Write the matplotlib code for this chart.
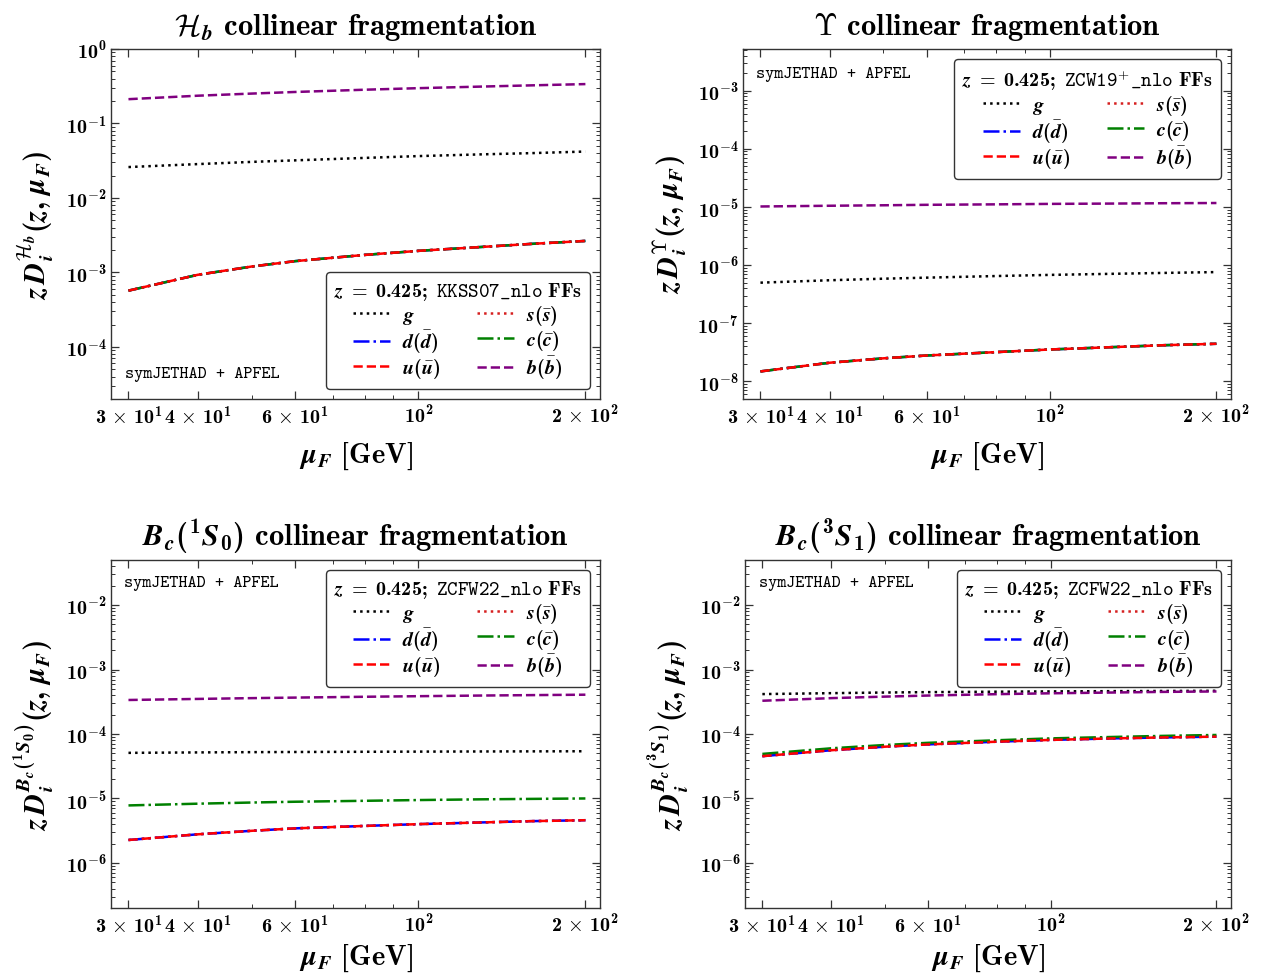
import numpy as np
import matplotlib
matplotlib.use('Agg')
import matplotlib.pyplot as plt
from matplotlib.ticker import FixedLocator, FuncFormatter, LogLocator, NullFormatter

plt.rcParams['mathtext.fontset'] = 'custom'
plt.rcParams['mathtext.rm'] = 'cmr10'
plt.rcParams['mathtext.it'] = 'cmmi10'
plt.rcParams['mathtext.bf'] = 'cmb10'
plt.rcParams['mathtext.bfit'] = 'STIXGeneral:italic:bold'
plt.rcParams['mathtext.tt'] = 'cmtt10'
plt.rcParams['mathtext.cal'] = 'cmsy10'
plt.rcParams['mathtext.sf'] = 'cmss10'
plt.rcParams['mathtext.fallback'] = 'cm'
plt.rcParams['font.family'] = ['cmb10', 'DejaVu Serif']
plt.rcParams['axes.unicode_minus'] = True

# ---------------- data ----------------
mu_F = [30, 40, 50, 60, 80, 100, 130, 160, 200]

# H_b (KKSS07_nlo)
Hb_g = [0.026, 0.0285, 0.0305, 0.032, 0.0345, 0.0365, 0.0385, 0.040, 0.042]
Hb_light = [5.7e-4, 9.3e-4, 1.2e-3, 1.42e-3, 1.72e-3, 1.95e-3, 2.2e-3, 2.42e-3, 2.65e-3]
Hb_c = [5.7e-4, 9.3e-4, 1.2e-3, 1.42e-3, 1.72e-3, 1.95e-3, 2.2e-3, 2.42e-3, 2.65e-3]
Hb_b = [0.212, 0.236, 0.252, 0.265, 0.284, 0.298, 0.313, 0.325, 0.338]

# Upsilon (ZCW19+_nlo)
Ups_g = [5.0e-7, 5.5e-7, 5.85e-7, 6.1e-7, 6.5e-7, 6.8e-7, 7.1e-7, 7.35e-7, 7.6e-7]
Ups_light = [1.49e-8, 2.1e-8, 2.5e-8, 2.8e-8, 3.2e-8, 3.55e-8, 3.9e-8, 4.2e-8, 4.45e-8]
Ups_c = [1.49e-8, 2.1e-8, 2.5e-8, 2.8e-8, 3.2e-8, 3.55e-8, 3.9e-8, 4.2e-8, 4.45e-8]
Ups_b = [1.02e-5, 1.05e-5, 1.07e-5, 1.09e-5, 1.11e-5, 1.13e-5, 1.145e-5, 1.16e-5, 1.17e-5]

# Bc(1S0) (ZCFW22_nlo)
Bc1_g = [5.1e-5, 5.18e-5, 5.23e-5, 5.26e-5, 5.3e-5, 5.33e-5, 5.36e-5, 5.38e-5, 5.4e-5]
Bc1_light = [2.27e-6, 2.78e-6, 3.15e-6, 3.44e-6, 3.75e-6, 4.0e-6, 4.25e-6, 4.45e-6, 4.6e-6]
Bc1_c = [7.8e-6, 8.3e-6, 8.65e-6, 8.9e-6, 9.2e-6, 9.45e-6, 9.7e-6, 9.85e-6, 1.0e-5]
Bc1_b = [3.37e-4, 3.5e-4, 3.6e-4, 3.67e-4, 3.78e-4, 3.86e-4, 3.95e-4, 4.01e-4, 4.07e-4]

# Bc(3S1) (ZCFW22_nlo)
Bc3_g = [4.16e-4, 4.3e-4, 4.4e-4, 4.46e-4, 4.53e-4, 4.58e-4, 4.62e-4, 4.65e-4, 4.68e-4]
Bc3_light = [4.53e-5, 5.6e-5, 6.35e-5, 6.9e-5, 7.6e-5, 8.1e-5, 8.55e-5, 8.85e-5, 9.1e-5]
Bc3_c = [4.91e-5, 6.0e-5, 6.75e-5, 7.3e-5, 8.0e-5, 8.55e-5, 9.0e-5, 9.35e-5, 9.66e-5]
Bc3_b = [3.28e-4, 3.6e-4, 3.8e-4, 3.95e-4, 4.15e-4, 4.28e-4, 4.4e-4, 4.5e-4, 4.57e-4]

xtick_values = [30, 40, 60, 100, 200]
xtick_labels = [r'$\mathbf{3}\,\times\,\mathbf{10^{1}}$', r'$\mathbf{4}\,\times\,\mathbf{10^{1}}$',
                r'$\mathbf{6}\,\times\,\mathbf{10^{1}}$', r'$\mathbf{10^{2}}$',
                r'$\mathbf{2}\,\times\,\mathbf{10^{2}}$']
xminor_values = [50, 70, 80, 90]

titles = [r'$\mathcal{H}_{\boldsymbol{b}}$ collinear fragmentation',
          r'$\mathbf{\Upsilon}$ collinear fragmentation',
          r'$\boldsymbol{B}_{\boldsymbol{c}}\mathbf{(}{}^{\mathbf{1}}\boldsymbol{S}_{\mathbf{0}}\mathbf{)}$ collinear fragmentation',
          r'$\boldsymbol{B}_{\boldsymbol{c}}\mathbf{(}{}^{\mathbf{3}}\boldsymbol{S}_{\mathbf{1}}\mathbf{)}$ collinear fragmentation']

tail = r'\mathbf{(}\boldsymbol{z}\mathbf{,}\ \boldsymbol{\mu}_{\boldsymbol{F}}\mathbf{)}'
ylabels = [r'$\boldsymbol{z\,D}_{\boldsymbol{i}}^{\mathcal{H}_{\boldsymbol{b}}}' + tail + '$',
           r'$\boldsymbol{z\,D}_{\boldsymbol{i}}^{\mathbf{\Upsilon}}' + tail + '$',
           r'$\boldsymbol{z\,D}_{\boldsymbol{i}}^{\boldsymbol{B}_{\boldsymbol{c}}\mathbf{(}{}^{\mathbf{1}}\boldsymbol{S}_{\mathbf{0}}\mathbf{)}}' + tail + '$',
           r'$\boldsymbol{z\,D}_{\boldsymbol{i}}^{\boldsymbol{B}_{\boldsymbol{c}}\mathbf{(}{}^{\mathbf{3}}\boldsymbol{S}_{\mathbf{1}}\mathbf{)}}' + tail + '$']

ff_sets = [r'\mathtt{KKSS07\_nlo}', r'\mathtt{ZCW19}^{+}\mathtt{\_nlo}',
           r'\mathtt{ZCFW22\_nlo}', r'\mathtt{ZCFW22\_nlo}']

ylims = [(2e-5, 1.0), (5e-9, 5.2e-3), (2e-7, 5e-2), (2e-7, 5e-2)]
xlim = (27.9, 212.5)

series_data = [
    dict(g=Hb_g, s=Hb_light, d=Hb_light, c=Hb_c, u=Hb_light, b=Hb_b),
    dict(g=Ups_g, s=Ups_light, d=Ups_light, c=Ups_c, u=Ups_light, b=Ups_b),
    dict(g=Bc1_g, s=Bc1_light, d=Bc1_light, c=Bc1_c, u=Bc1_light, b=Bc1_b),
    dict(g=Bc3_g, s=Bc3_light, d=Bc3_light, c=Bc3_c, u=Bc3_light, b=Bc3_b),
]

styles = {
    'g': dict(color='black', ls=':', label=r'$\boldsymbol{g}$'),
    's': dict(color='#d62020', ls=':', label=r'$\boldsymbol{s}\mathbf{(}\bar{\boldsymbol{s}}\mathbf{)}$'),
    'd': dict(color='blue', ls='-.', label=r'$\boldsymbol{d}\mathbf{(}\bar{\boldsymbol{d}}\mathbf{)}$'),
    'c': dict(color='green', ls='-.', label=r'$\boldsymbol{c}\mathbf{(}\bar{\boldsymbol{c}}\mathbf{)}$'),
    'u': dict(color='red', ls='--', label=r'$\boldsymbol{u}\mathbf{(}\bar{\boldsymbol{u}}\mathbf{)}$'),
    'b': dict(color='purple', ls='--', label=r'$\boldsymbol{b}\mathbf{(}\bar{\boldsymbol{b}}\mathbf{)}$'),
}
plot_order = ['g', 's', 'd', 'c', 'u', 'b']
legend_order = ['g', 'd', 'u', 's', 'c', 'b']

W, H = 1261, 978
rects_px = [(111, 50, 600, 400), (743, 50, 1231, 400),
            (111, 561, 600, 909), (745, 561, 1231, 909)]
legend_locs = ['lower right', 'upper right', 'upper right', 'upper right']
tag_pos = [(0.028, 0.072), (0.026, 0.93), (0.026, 0.935), (0.028, 0.935)]
xlabel_pads = [9, 9, 4, 4]

fig = plt.figure(figsize=(W / 100, H / 100), dpi=100)

def yfmt(v, pos):
    e = int(np.round(np.log10(v)))
    return r'$\mathbf{10^{%d}}$' % e

for k in range(4):
    x0, y0, x1, y1 = rects_px[k]
    ax = fig.add_axes([x0 / W, 1 - y1 / H, (x1 - x0) / W, (y1 - y0) / H])
    ax.set_xscale('log')
    ax.set_yscale('log')
    lines = {}
    for key in plot_order:
        st = styles[key]
        ln, = ax.plot(mu_F, series_data[k][key], color=st['color'], ls=st['ls'],
                      lw=1.8, label=st['label'])
        lines[key] = ln
    ax.set_xlim(*xlim)
    ax.set_ylim(*ylims[k])

    ax.xaxis.set_major_locator(FixedLocator(xtick_values))
    ax.xaxis.set_major_formatter(FuncFormatter(lambda v, p: xtick_labels[xtick_values.index(int(round(v)))]))
    ax.xaxis.set_minor_locator(FixedLocator(xminor_values))
    ax.xaxis.set_minor_formatter(NullFormatter())
    ax.yaxis.set_major_locator(LogLocator(base=10, numticks=20))
    ax.yaxis.set_major_formatter(FuncFormatter(yfmt))
    ax.yaxis.set_minor_locator(LogLocator(base=10, subs=np.arange(2, 10), numticks=20))
    ax.yaxis.set_minor_formatter(NullFormatter())

    ax.tick_params(which='both', direction='in', top=True, right=True, labelsize=14.5,
                   color='#333333')
    ax.tick_params(which='major', length=6, width=0.9)
    ax.tick_params(which='minor', length=3, width=0.7)
    for sp in ax.spines.values():
        sp.set_color('#333333')
        sp.set_linewidth(1.0)

    ax.set_title(titles[k], fontsize=22, pad=11)
    ax.set_xlabel(r'$\boldsymbol{\mu}_{\boldsymbol{F}}\ \mathbf{[GeV]}$', fontsize=20.5,
                  labelpad=xlabel_pads[k])
    ax.set_ylabel(ylabels[k], fontsize=21, labelpad=6)

    ltitle = r'$\boldsymbol{z}\;\mathbf{=}\;\mathbf{0.425;}\ ' + ff_sets[k] + r'\ \mathbf{FFs}$'
    leg = ax.legend([lines[q] for q in legend_order], [styles[q]['label'] for q in legend_order],
                    loc=legend_locs[k], ncol=2, fontsize=14.5, title=ltitle,
                    title_fontsize=14.5, handlelength=1.85, handletextpad=0.6,
                    columnspacing=1.8, labelspacing=0.06, borderpad=0.4,
                    borderaxespad=0.5, fancybox=True, framealpha=1.0,
                    edgecolor='#333333')
    leg.get_frame().set_linewidth(1.0)

    tx, ty = tag_pos[k]
    ax.text(tx, ty, 'symJETHAD + APFEL', transform=ax.transAxes, fontsize=12.5,
            family='cmtt10', ha='left', va='center')

fig.savefig('out.png', dpi=100)
